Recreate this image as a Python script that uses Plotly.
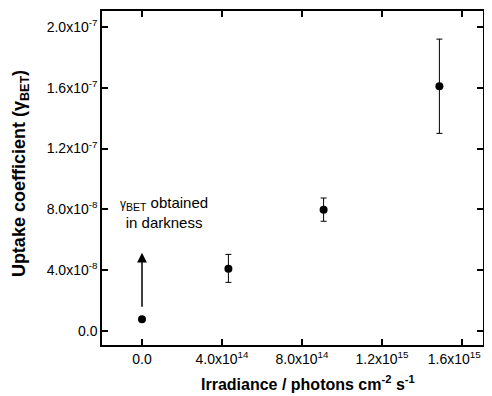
import plotly.graph_objects as go

irradiance = [0.0, 4.32e14, 9.08e14, 1.487e15]
gamma_bet = [0.77e-8, 4.1e-8, 7.98e-8, 1.61e-7]
err_plus = [0.0, 0.94e-8, 0.77e-8, 0.31e-7]
err_minus = [0.0, 0.90e-8, 0.76e-8, 0.31e-7]

x_tickvals = [0.0, 4.0e14, 8.0e14, 1.2e15, 1.6e15]
x_ticktext = ["0.0", "4.0x10<sup>14</sup>", "8.0x10<sup>14</sup>", "1.2x10<sup>15</sup>",
              "1.6x10<sup>15</sup>&nbsp;&nbsp;&nbsp;&nbsp;"]
y_tickvals = [0.0, 4.0e-8, 8.0e-8, 1.2e-7, 1.6e-7, 2.0e-7]
y_ticktext = ["0.0", "4.0x10<sup>-8</sup>", "8.0x10<sup>-8</sup>", "1.2x10<sup>-7</sup>", "1.6x10<sup>-7</sup>", "2.0x10<sup>-7</sup>"]

arrow_x = 0.0
arrow_tail = 1.5e-8
arrow_head = 5.15e-8

font = "Liberation Sans, Arial, sans-serif"

fig = go.Figure()
fig.add_trace(go.Scatter(
    x=irradiance, y=gamma_bet, mode="markers",
    marker=dict(color="black", size=8),
    error_y=dict(type="data", symmetric=False, array=err_plus, arrayminus=err_minus,
                 color="black", thickness=1, width=3),
    showlegend=False,
))

fig.add_annotation(x=arrow_x, y=arrow_head, ax=arrow_x, ay=arrow_tail,
                   xref="x", yref="y", axref="x", ayref="y",
                   showarrow=True, arrowhead=2, arrowsize=1.3, arrowwidth=1.5,
                   arrowcolor="black", text="")
fig.add_annotation(x=1.1e14, y=7.8e-8, xref="x", yref="y", showarrow=False,
                   text="<span style='font-size:12px'>γ</span><sub>BET</sub> obtained<br>in darkness",
                   align="center",
                   font=dict(family=font, size=15, color="black"))

# axis titles
fig.add_annotation(x=0.541, y=-0.114, xref="paper", yref="paper", showarrow=False,
                   xanchor="center", yanchor="middle",
                   text="<b>Irradiance / photons cm<sup>-2</sup> s<sup>-1</sup></b>",
                   font=dict(family=font, size=16, color="black"))
fig.add_annotation(x=-0.214, y=0.513, xref="paper", yref="paper", showarrow=False,
                   xanchor="center", yanchor="middle", textangle=-90,
                   text="<b>Uptake coefficient (γ<sub>BET</sub>)</b>",
                   font=dict(family=font, size=18, color="black"))

axis_common = dict(showline=True, linecolor="black", linewidth=1.5, mirror="ticks",
                   ticks="inside", ticklen=6, tickwidth=1.5, tickcolor="black",
                   showgrid=False, zeroline=False, automargin=False,
                   ticklabeloverflow="allow",
                   tickfont=dict(family=font, size=14, color="black"))

fig.update_xaxes(range=[-2.0e14, 1.705e15], tickvals=x_tickvals, ticktext=x_ticktext,
                 **axis_common)
fig.update_yaxes(range=[-0.92e-8, 2.105e-7], tickvals=y_tickvals, ticktext=y_ticktext,
                 **axis_common)

# page body has an 8px default margin, so the figure is sized/offset to compensate
fig.update_layout(width=484, height=388, margin=dict(l=94, r=9, t=3, b=51),
                  plot_bgcolor="white", paper_bgcolor="white")

fig.write_html("out.html")
